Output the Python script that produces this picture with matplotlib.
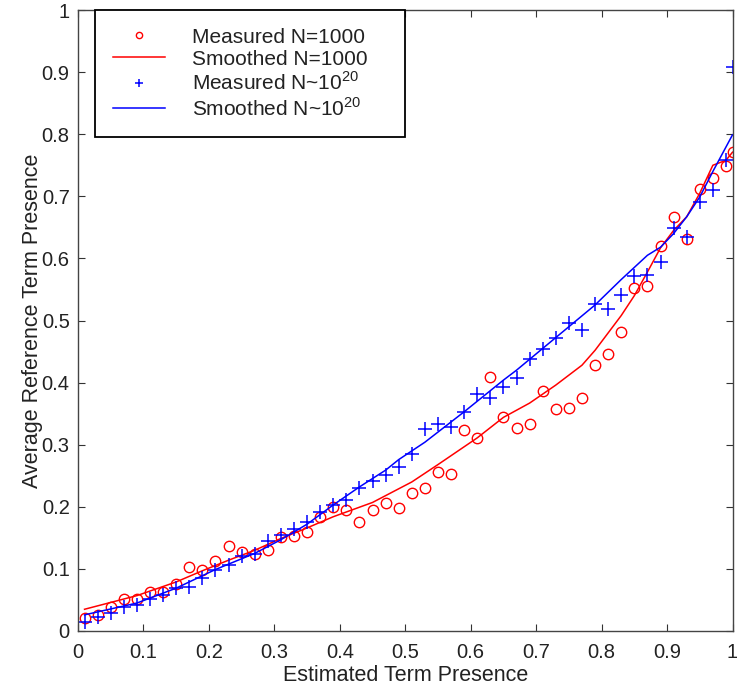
import numpy as np
import matplotlib
matplotlib.use("Agg")
import matplotlib.pyplot as plt

plt.rcParams['font.family'] = ['Liberation Sans', 'DejaVu Sans']
plt.rcParams['mathtext.fontset'] = 'custom'
plt.rcParams['mathtext.rm'] = 'Liberation Sans'

# Measured points (x = 0.01, 0.03, ..., 0.99, then 1.0)
x_meas = [0.01, 0.03, 0.05, 0.07, 0.09, 0.11, 0.13, 0.15, 0.17, 0.19,
          0.21, 0.23, 0.25, 0.27, 0.29, 0.31, 0.33, 0.35, 0.37, 0.39,
          0.41, 0.43, 0.45, 0.47, 0.49, 0.51, 0.53, 0.55, 0.57, 0.59,
          0.61, 0.63, 0.65, 0.67, 0.69, 0.71, 0.73, 0.75, 0.77, 0.79,
          0.81, 0.83, 0.85, 0.87, 0.89, 0.91, 0.93, 0.95, 0.97, 0.99, 1.0]

red_meas = [0.021, 0.026, 0.039, 0.051, 0.052, 0.063, 0.062, 0.075, 0.103, 0.098,
            0.112, 0.137, 0.127, 0.124, 0.131, 0.152, 0.153, 0.159, 0.183, 0.199,
            0.195, 0.176, 0.195, 0.206, 0.198, 0.223, 0.230, 0.256, 0.253, 0.324,
            0.311, 0.409, 0.344, 0.327, 0.333, 0.387, 0.357, 0.359, 0.375, 0.428,
            0.446, 0.482, 0.553, 0.556, 0.620, 0.666, 0.631, 0.711, 0.730, 0.749, 0.771]

blue_meas = [0.014, 0.0225, 0.0285, 0.038, 0.042, 0.0515, 0.058, 0.070, 0.071, 0.085,
             0.098, 0.106, 0.121, 0.124, 0.145, 0.155, 0.164, 0.175, 0.191, 0.203,
             0.211, 0.231, 0.242, 0.252, 0.264, 0.285, 0.325, 0.333, 0.329, 0.353,
             0.382, 0.375, 0.393, 0.408, 0.438, 0.454, 0.472, 0.496, 0.485, 0.526,
             0.519, 0.541, 0.572, 0.573, 0.594, 0.649, 0.635, 0.691, 0.710, 0.758, 0.908]

# Smoothed curves (vertices)
x_red_s = [0.01, 0.09, 0.15, 0.19, 0.23, 0.27, 0.31, 0.35, 0.39, 0.45, 0.51, 0.55,
           0.61, 0.65, 0.69, 0.73, 0.77, 0.79, 0.83, 0.85, 0.87, 0.89, 0.91, 0.93,
           0.95, 0.97, 0.99, 1.0]
red_s = [0.035, 0.057, 0.079, 0.097, 0.114, 0.130, 0.149, 0.166, 0.184, 0.207, 0.240, 0.268,
         0.311, 0.344, 0.367, 0.396, 0.428, 0.452, 0.508, 0.540, 0.578, 0.617, 0.645, 0.667,
         0.705, 0.750, 0.758, 0.771]

x_blue_s = [0.01, 0.09, 0.15, 0.21, 0.27, 0.31, 0.35, 0.39, 0.43, 0.47, 0.49, 0.53,
            0.59, 0.65, 0.67, 0.75, 0.79, 0.83, 0.87, 0.89, 0.91, 0.93, 0.95, 0.97, 1.0]
blue_s = [0.026, 0.045, 0.069, 0.099, 0.125, 0.147, 0.172, 0.203, 0.232, 0.259, 0.276, 0.304,
          0.353, 0.404, 0.420, 0.490, 0.525, 0.566, 0.605, 0.618, 0.640, 0.667, 0.699, 0.740, 0.799]

labels = ['Measured N=1000', 'Smoothed N=1000',
          r'Measured N~10$^{20}$', r'Smoothed N~10$^{20}$']

W, H = 737, 689
ax_l, ax_b, ax_w, ax_h = 78, 58, 654.5, 621

fig = plt.figure(figsize=(W / 100, H / 100), dpi=100)
ax = fig.add_axes([ax_l / W, ax_b / H, ax_w / W, ax_h / H])

ax.plot(x_meas, red_meas, linestyle='none', marker='o', markersize=7.5,
        markerfacecolor='none', markeredgecolor='#ff0000', markeredgewidth=1.0,
        label=labels[0])
ax.plot(x_red_s, red_s, color='#ff0000', linewidth=1.1, label=labels[1])
ax.plot(x_meas, blue_meas, linestyle='none', marker='+', markersize=9.5,
        markeredgecolor='#0000ff', markeredgewidth=1.1, label=labels[2])
ax.plot(x_blue_s, blue_s, color='#0000ff', linewidth=1.1, label=labels[3])

ax.set_xlim(0, 1)
ax.set_ylim(0, 1)
ticks = [0, 0.1, 0.2, 0.3, 0.4, 0.5, 0.6, 0.7, 0.8, 0.9, 1]
ticklabels = ['0', '0.1', '0.2', '0.3', '0.4', '0.5', '0.6', '0.7', '0.8', '0.9', '1']
ax.set_xticks(ticks)
ax.set_xticklabels(ticklabels)
ax.set_yticks(ticks)
ax.set_yticklabels(ticklabels)
ax.tick_params(direction='in', length=5, width=0.8, labelsize=14.5,
               top=True, right=True, colors='#333333', labelcolor='#222222')
ax.tick_params(axis='x', pad=9)
ax.tick_params(axis='y', pad=6)
for s in ax.spines.values():
    s.set_color('#444444')
    s.set_linewidth(1.0)

ax.set_xlabel('Estimated Term Presence', fontsize=15.5, color='#222222', labelpad=2)
ax.set_ylabel('Average Reference Term Presence', fontsize=15.5, color='#222222', labelpad=-1)

leg = ax.legend(loc='upper left',
                bbox_to_anchor=(17 / ax_w, 0.0, 310 / ax_w, 1.0),
                mode='expand', borderaxespad=0,
                fontsize=15, frameon=True, fancybox=False, shadow=False,
                handlelength=2.5, handletextpad=1.3, labelspacing=0.14,
                borderpad=0.85, markerscale=0.6)
leg.get_frame().set_edgecolor('black')
leg.get_frame().set_linewidth(1.3)
leg.get_frame().set_alpha(1)
for t in leg.get_texts():
    t.set_color('#222222')

fig.savefig('out.png', dpi=100)
